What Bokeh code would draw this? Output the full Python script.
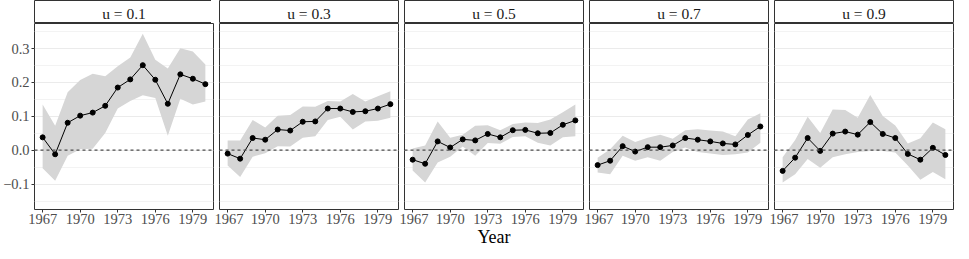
import numpy as np
from bokeh.plotting import figure
from bokeh.models import FixedTicker, Range1d, Span, Label
from bokeh.layouts import row, column
from bokeh.embed import file_html
from bokeh.resources import INLINE

years = list(range(1967, 1981))
panel_labels = ["u = 0.1", "u = 0.3", "u = 0.5", "u = 0.7", "u = 0.9"]

est_u01 = [0.038, -0.012, 0.081, 0.102, 0.111, 0.131, 0.185, 0.209, 0.251, 0.208, 0.137, 0.224, 0.211, 0.195]
upper_u01 = [0.135, 0.072, 0.171, 0.207, 0.226, 0.218, 0.248, 0.274, 0.344, 0.267, 0.241, 0.301, 0.291, 0.253]
lower_u01 = [-0.053, -0.090, -0.016, 0.003, 0.004, 0.051, 0.123, 0.145, 0.162, 0.154, 0.043, 0.152, 0.135, 0.144]

est_u03 = [-0.010, -0.025, 0.036, 0.031, 0.061, 0.058, 0.084, 0.085, 0.123, 0.123, 0.113, 0.115, 0.123, 0.136]
upper_u03 = [0.029, 0.029, 0.089, 0.067, 0.102, 0.104, 0.129, 0.128, 0.145, 0.144, 0.166, 0.144, 0.159, 0.174]
lower_u03 = [-0.045, -0.079, -0.019, -0.009, 0.012, 0.011, 0.037, 0.041, 0.089, 0.099, 0.061, 0.085, 0.087, 0.096]

est_u05 = [-0.028, -0.040, 0.026, 0.008, 0.032, 0.029, 0.048, 0.038, 0.059, 0.060, 0.050, 0.051, 0.075, 0.088]
upper_u05 = [0.005, 0.014, 0.085, 0.037, 0.046, 0.072, 0.074, 0.059, 0.077, 0.082, 0.080, 0.091, 0.112, 0.135]
lower_u05 = [-0.060, -0.095, -0.036, -0.019, 0.011, -0.016, 0.021, 0.019, 0.039, 0.041, 0.022, 0.014, 0.038, 0.041]

est_u07 = [-0.044, -0.031, 0.012, -0.004, 0.009, 0.009, 0.014, 0.036, 0.031, 0.026, 0.020, 0.017, 0.045, 0.070]
upper_u07 = [-0.022, 0.003, 0.043, 0.024, 0.037, 0.046, 0.034, 0.059, 0.062, 0.058, 0.055, 0.041, 0.091, 0.109]
lower_u07 = [-0.066, -0.071, -0.016, -0.031, -0.021, -0.031, -0.005, 0.008, -0.005, -0.010, -0.014, -0.012, -0.007, 0.022]

est_u09 = [-0.061, -0.022, 0.036, -0.002, 0.049, 0.055, 0.046, 0.083, 0.048, 0.036, -0.011, -0.028, 0.007, -0.014]
upper_u09 = [-0.021, 0.030, 0.099, 0.051, 0.120, 0.119, 0.096, 0.163, 0.101, 0.073, 0.020, 0.035, 0.082, 0.062]
lower_u09 = [-0.095, -0.071, -0.026, -0.052, -0.021, -0.012, -0.005, -0.002, -0.002, -0.007, -0.045, -0.087, -0.064, -0.086]

estimates = [est_u01, est_u03, est_u05, est_u07, est_u09]
uppers = [upper_u01, upper_u03, upper_u05, upper_u07, upper_u09]
lowers = [lower_u01, lower_u03, lower_u05, lower_u07, lower_u09]

x_ticks = [1967, 1970, 1973, 1976, 1979]
y_ticks = [-0.1, 0.0, 0.1, 0.2, 0.3]
y_minor = [-0.15, -0.05, 0.05, 0.15, 0.25, 0.35]
y_tick_labels = {-0.1: "\u22120.1", 0.0: "0.0", 0.1: "0.1", 0.2: "0.2", 0.3: "0.3"}

FONT = "Liberation Serif"
FW = 179
FH = 186
LEFT0 = 31

cols = []
for i in range(5):
    left = LEFT0 if i == 0 else 5
    strip = figure(frame_width=FW, frame_height=23, x_range=(0, 1), y_range=(0, 1),
                   toolbar_location=None, output_backend="svg",
                   x_axis_type=None, y_axis_type=None,
                   min_border_left=left, min_border_right=1, min_border_top=0, min_border_bottom=0)
    strip.grid.visible = False
    strip.outline_line_color = "#333333"
    strip.outline_line_width = 1
    strip.add_layout(Label(x=0.5, y=0.45, text=panel_labels[i], text_align="center",
                           text_baseline="middle", text_font=FONT, text_font_size="15.5px",
                           text_color="#1a1a1a"))

    p = figure(frame_width=FW, frame_height=FH,
               x_range=Range1d(1966.35, 1980.65), y_range=Range1d(-0.175, 0.374),
               toolbar_location=None, output_backend="svg",
               min_border_left=left, min_border_right=1, min_border_top=0, min_border_bottom=34)
    p.outline_line_color = "#333333"
    p.outline_line_width = 1
    p.xgrid.grid_line_color = None
    p.yaxis.ticker = FixedTicker(ticks=y_ticks, minor_ticks=y_minor)
    p.ygrid.grid_line_color = "#ebebeb"
    p.ygrid.grid_line_width = 1
    p.ygrid.minor_grid_line_color = "#f3f3f3"
    p.ygrid.minor_grid_line_width = 1
    p.xaxis.ticker = FixedTicker(ticks=x_ticks)
    for ax in (p.xaxis[0], p.yaxis[0]):
        ax.axis_line_color = None
        ax.major_tick_line_color = "#333333"
        ax.major_tick_out = 3
        ax.major_tick_in = 0
        ax.minor_tick_line_color = None
        ax.major_label_text_font = FONT
        ax.major_label_text_font_size = "14.5px"
        ax.major_label_text_color = "#4d4d4d"
        ax.major_label_standoff = 1
    p.yaxis.major_label_overrides = y_tick_labels
    if i != 0:
        p.yaxis.visible = False
    if i == 2:
        p.xaxis.axis_label = "Year"
        p.xaxis.axis_label_text_font = FONT
        p.xaxis.axis_label_text_font_size = "18px"
        p.xaxis.axis_label_text_font_style = "normal"
        p.xaxis.axis_label_text_color = "#000000"
        p.xaxis.axis_label_standoff = 0

    p.varea(x=years, y1=lowers[i], y2=uppers[i], fill_color="#d6d6d6", fill_alpha=1.0)
    p.add_layout(Span(location=0, dimension="width", line_color="#4d4d4d",
                      line_dash="3 3", line_width=1.2))
    p.line(x=years, y=estimates[i], line_color="black", line_width=1)
    p.scatter(x=years, y=estimates[i], size=5, color="black")
    cols.append(column(strip, p, spacing=0))

layout = row(*cols, spacing=0)

open("out.html", "w").write(file_html(layout, INLINE))
